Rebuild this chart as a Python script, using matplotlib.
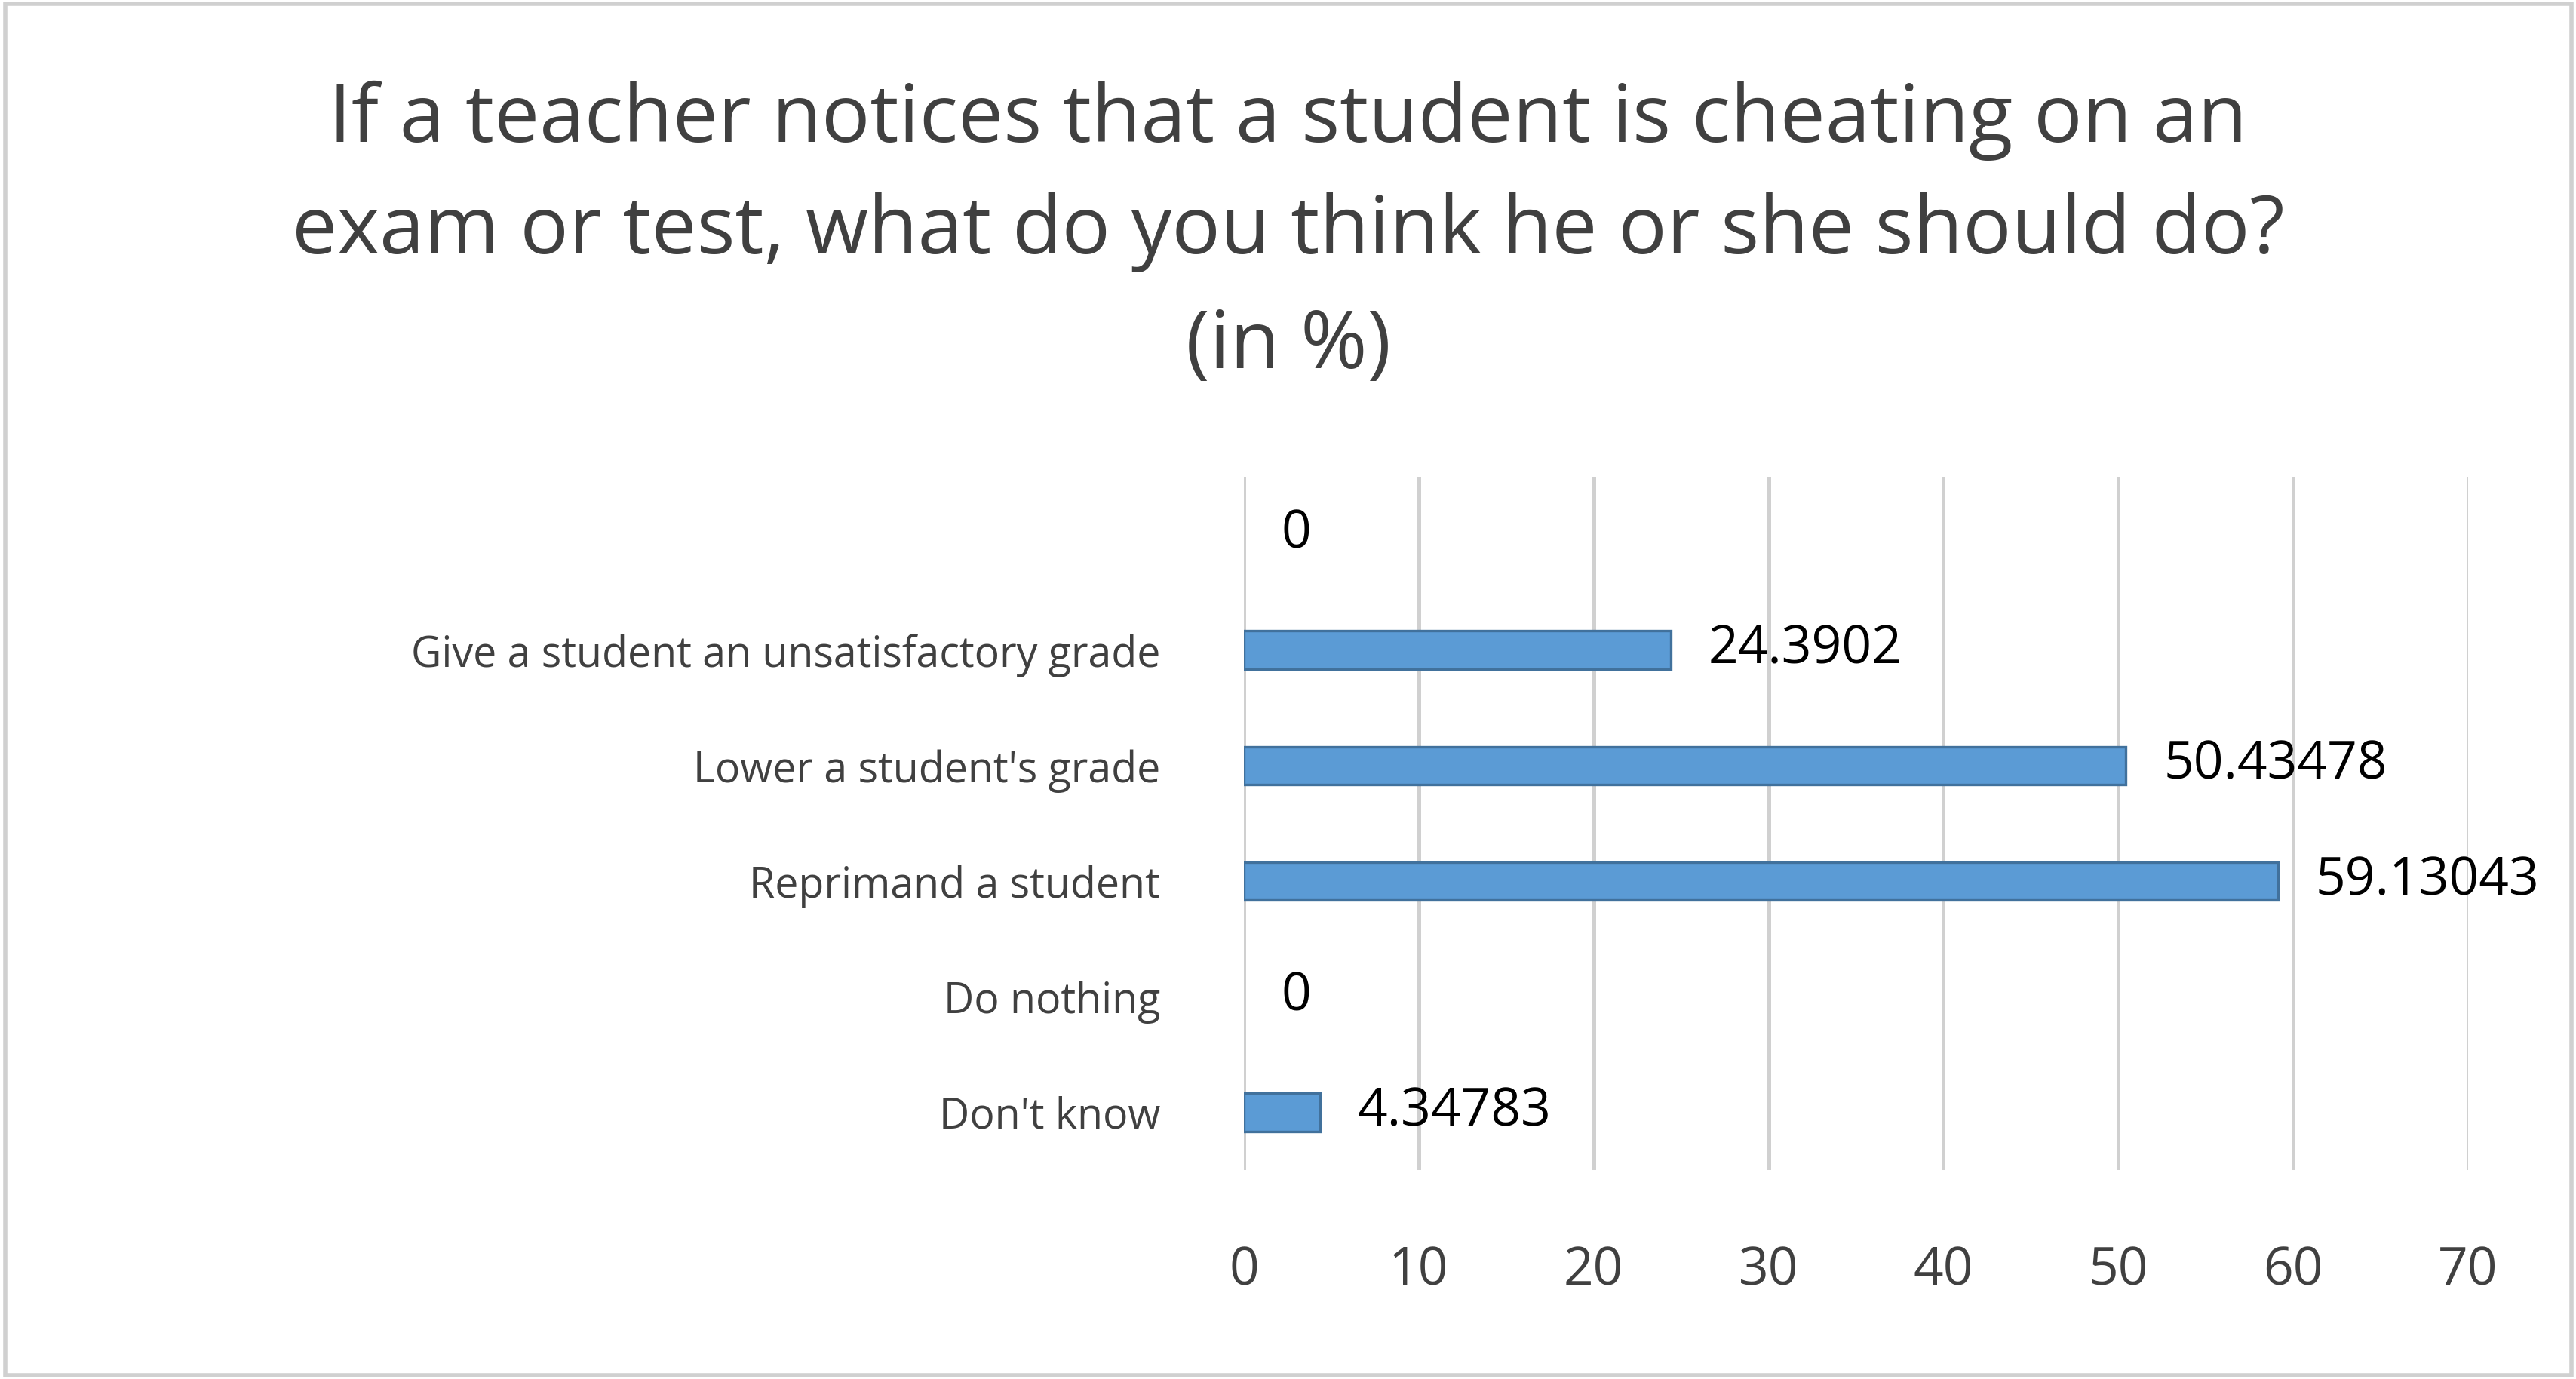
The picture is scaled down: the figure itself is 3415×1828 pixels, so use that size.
import matplotlib.pyplot as plt
from matplotlib.patches import Rectangle

# categories listed top to bottom, as in the picture
categories = ["", "Give a student an unsatisfactory grade", "Lower a student's grade",
              "Reprimand a student", "Do nothing", "Don't know"]
values = [0, 24.3902, 50.43478, 59.13043, 0, 4.34783]
value_labels = ["0", "24.3902", "50.43478", "59.13043", "0", "4.34783"]
xticks = [0, 10, 20, 30, 40, 50, 60, 70]

plt.rcParams['font.family'] = ['Open Sans', 'DejaVu Sans']

fig = plt.figure(figsize=(17.08, 9.14), dpi=200)
ax = fig.add_axes([1649/3416, 1 - 1551/1828, (3272-1649)/3416, (1551-632)/1828])

ypos = list(range(len(categories)))
edges = ['#41719c' if v > 0 else 'none' for v in values]
ax.barh(ypos, values, height=0.33, color='#5b9bd5', edgecolor=edges, linewidth=1.2, zorder=3)
for y, v, lab in zip(ypos, values, value_labels):
    ax.annotate(lab, (v, y), xytext=(18, 0), textcoords='offset points',
                va='center', ha='left', fontsize=25, color='black')

ax.set_ylim(len(categories) - 0.5, -0.5)
ax.set_xlim(0, 70)
ax.set_xticks(xticks)
ax.set_yticks(ypos)
ax.set_yticklabels(categories, fontsize=20, color='#404040')
ax.tick_params(axis='x', labelsize=25, labelcolor='#404040', length=0, pad=36)
ax.tick_params(axis='y', length=0, pad=40)
ax.grid(axis='x', color='#d0d0d0', linewidth=1.8, zorder=0)
for s in ax.spines.values():
    s.set_visible(False)

fig.text(0.5, 1 - 160/1828, "If a teacher notices that a student is cheating on an",
         ha='center', va='center', fontsize=38.5, color='#404040')
fig.text(0.5, 1 - 308/1828, "exam or test, what do you think he or she should do?",
         ha='center', va='center', fontsize=38.5, color='#404040')
fig.text(0.5, 1 - 460/1828, "(in %)",
         ha='center', va='center', fontsize=38.5, color='#404040')

fig.patches.append(Rectangle((0.002, 0.003), 0.996, 0.994, transform=fig.transFigure,
                             fill=False, edgecolor='#d0d0d0', linewidth=2))

fig.savefig('out.png', dpi=200)
